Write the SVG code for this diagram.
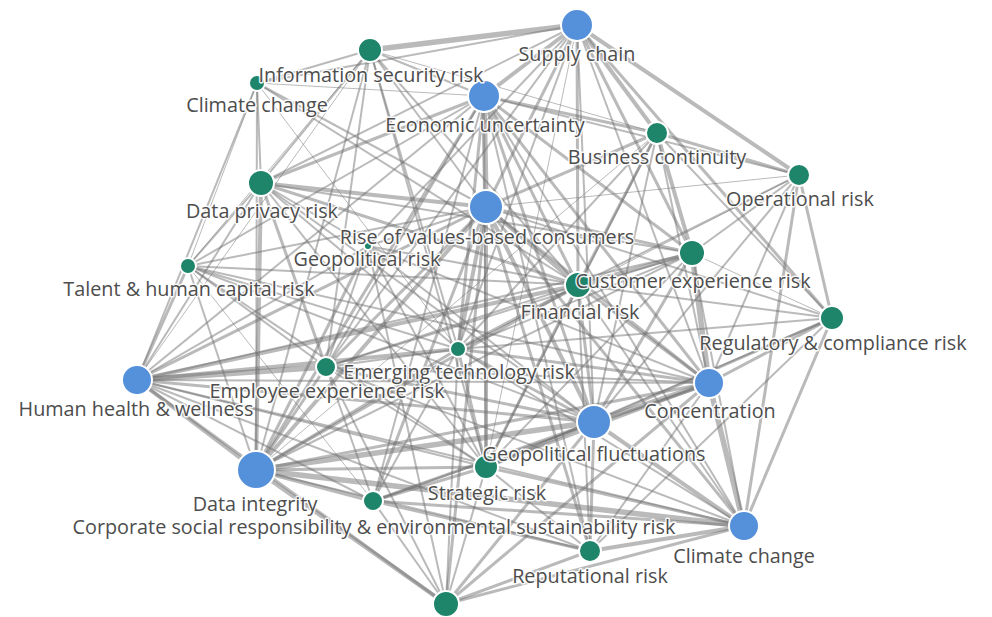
<svg xmlns="http://www.w3.org/2000/svg" width="992" height="617" viewBox="0 0 992 617">
<style>
.edges line{stroke:#6e6e6e;stroke-opacity:0.48;fill:none}
.e1{stroke-width:1}.e2{stroke-width:2}.e3{stroke-width:3}.e4{stroke-width:4}.e5{stroke-width:5.5}
.nb{fill:#5590db;stroke:#fff;stroke-width:2}
.ng{fill:#1e846a;stroke:#fff;stroke-width:2}
.lbl{font-family:"Open Sans","Noto Sans",sans-serif;font-size:19.8px;fill:#4d4d4d;text-anchor:middle;stroke:#fff;stroke-width:3;stroke-opacity:0.9;paint-order:stroke;stroke-linejoin:round}
</style>
<rect width="992" height="617" fill="#fff"/>
<g id="connectors" class="edges">
<line class="e5" x1="577" y1="25" x2="370" y2="50"/>
<line class="e4" x1="577" y1="25" x2="484" y2="96"/>
<line class="e4" x1="577" y1="25" x2="657" y2="133"/>
<line class="e4" x1="577" y1="25" x2="799" y2="175"/>
<line class="e3" x1="577" y1="25" x2="692" y2="253"/>
<line class="e3" x1="577" y1="25" x2="578" y2="285"/>
<line class="e3" x1="577" y1="25" x2="486" y2="207"/>
<line class="e2" x1="577" y1="25" x2="261" y2="183"/>
<line class="e2" x1="577" y1="25" x2="368" y2="246"/>
<line class="e2" x1="577" y1="25" x2="458" y2="349"/>
<line class="e3" x1="577" y1="25" x2="832" y2="318"/>
<line class="e2" x1="577" y1="25" x2="709" y2="383"/>
<line class="e2" x1="577" y1="25" x2="594" y2="422"/>
<line class="e1" x1="577" y1="25" x2="486" y2="467"/>
<line class="e2" x1="577" y1="25" x2="257" y2="83"/>
<line class="e2" x1="577" y1="25" x2="326" y2="367"/>
<line class="e1" x1="484" y1="96" x2="257" y2="83"/>
<line class="e2" x1="484" y1="96" x2="370" y2="50"/>
<line class="e3" x1="484" y1="96" x2="657" y2="133"/>
<line class="e2" x1="484" y1="96" x2="799" y2="175"/>
<line class="e5" x1="484" y1="96" x2="486" y2="207"/>
<line class="e3" x1="484" y1="96" x2="261" y2="183"/>
<line class="e2" x1="484" y1="96" x2="188" y2="266"/>
<line class="e2" x1="484" y1="96" x2="137" y2="380"/>
<line class="e3" x1="484" y1="96" x2="256" y2="470"/>
<line class="e2" x1="484" y1="96" x2="326" y2="367"/>
<line class="e3" x1="484" y1="96" x2="458" y2="349"/>
<line class="e3" x1="484" y1="96" x2="594" y2="422"/>
<line class="e3" x1="484" y1="96" x2="709" y2="383"/>
<line class="e3" x1="484" y1="96" x2="692" y2="253"/>
<line class="e3" x1="484" y1="96" x2="578" y2="285"/>
<line class="e2" x1="484" y1="96" x2="486" y2="467"/>
<line class="e2" x1="484" y1="96" x2="373" y2="501"/>
<line class="e2" x1="484" y1="96" x2="590" y2="551"/>
<line class="e2" x1="484" y1="96" x2="744" y2="526"/>
<line class="e2" x1="486" y1="207" x2="370" y2="50"/>
<line class="e4" x1="486" y1="207" x2="261" y2="183"/>
<line class="e2" x1="486" y1="207" x2="188" y2="266"/>
<line class="e3" x1="486" y1="207" x2="137" y2="380"/>
<line class="e4" x1="486" y1="207" x2="256" y2="470"/>
<line class="e3" x1="486" y1="207" x2="326" y2="367"/>
<line class="e4" x1="486" y1="207" x2="458" y2="349"/>
<line class="e4" x1="486" y1="207" x2="594" y2="422"/>
<line class="e4" x1="486" y1="207" x2="486" y2="467"/>
<line class="e3" x1="486" y1="207" x2="373" y2="501"/>
<line class="e3" x1="486" y1="207" x2="446" y2="604"/>
<line class="e3" x1="486" y1="207" x2="590" y2="551"/>
<line class="e3" x1="486" y1="207" x2="744" y2="526"/>
<line class="e3" x1="486" y1="207" x2="709" y2="383"/>
<line class="e3" x1="486" y1="207" x2="692" y2="253"/>
<line class="e4" x1="486" y1="207" x2="578" y2="285"/>
<line class="e3" x1="486" y1="207" x2="657" y2="133"/>
<line class="e1" x1="486" y1="207" x2="799" y2="175"/>
<line class="e2" x1="486" y1="207" x2="832" y2="318"/>
<line class="e2" x1="486" y1="207" x2="368" y2="246"/>
<line class="e2" x1="486" y1="207" x2="257" y2="83"/>
<line class="e2" x1="137" y1="380" x2="257" y2="83"/>
<line class="e2" x1="137" y1="380" x2="261" y2="183"/>
<line class="e3" x1="137" y1="380" x2="188" y2="266"/>
<line class="e5" x1="137" y1="380" x2="326" y2="367"/>
<line class="e4" x1="137" y1="380" x2="458" y2="349"/>
<line class="e4" x1="137" y1="380" x2="578" y2="285"/>
<line class="e2" x1="137" y1="380" x2="692" y2="253"/>
<line class="e4" x1="137" y1="380" x2="256" y2="470"/>
<line class="e2" x1="137" y1="380" x2="373" y2="501"/>
<line class="e2" x1="137" y1="380" x2="486" y2="467"/>
<line class="e3" x1="137" y1="380" x2="594" y2="422"/>
<line class="e2" x1="137" y1="380" x2="709" y2="383"/>
<line class="e2" x1="137" y1="380" x2="590" y2="551"/>
<line class="e3" x1="137" y1="380" x2="446" y2="604"/>
<line class="e1" x1="137" y1="380" x2="370" y2="50"/>
<line class="e2" x1="137" y1="380" x2="368" y2="246"/>
<line class="e2" x1="137" y1="380" x2="744" y2="526"/>
<line class="e2" x1="256" y1="470" x2="257" y2="83"/>
<line class="e4" x1="256" y1="470" x2="261" y2="183"/>
<line class="e2" x1="256" y1="470" x2="188" y2="266"/>
<line class="e3" x1="256" y1="470" x2="326" y2="367"/>
<line class="e3" x1="256" y1="470" x2="458" y2="349"/>
<line class="e3" x1="256" y1="470" x2="368" y2="246"/>
<line class="e2" x1="256" y1="470" x2="370" y2="50"/>
<line class="e5" x1="256" y1="470" x2="594" y2="422"/>
<line class="e3" x1="256" y1="470" x2="709" y2="383"/>
<line class="e4" x1="256" y1="470" x2="373" y2="501"/>
<line class="e3" x1="256" y1="470" x2="486" y2="467"/>
<line class="e4" x1="256" y1="470" x2="446" y2="604"/>
<line class="e2" x1="256" y1="470" x2="590" y2="551"/>
<line class="e5" x1="256" y1="470" x2="744" y2="526"/>
<line class="e3" x1="256" y1="470" x2="578" y2="285"/>
<line class="e2" x1="256" y1="470" x2="692" y2="253"/>
<line class="e1" x1="256" y1="470" x2="657" y2="133"/>
<line class="e5" x1="594" y1="422" x2="709" y2="383"/>
<line class="e4" x1="594" y1="422" x2="744" y2="526"/>
<line class="e3" x1="594" y1="422" x2="590" y2="551"/>
<line class="e4" x1="594" y1="422" x2="486" y2="467"/>
<line class="e3" x1="594" y1="422" x2="373" y2="501"/>
<line class="e3" x1="594" y1="422" x2="446" y2="604"/>
<line class="e3" x1="594" y1="422" x2="458" y2="349"/>
<line class="e3" x1="594" y1="422" x2="326" y2="367"/>
<line class="e3" x1="594" y1="422" x2="578" y2="285"/>
<line class="e3" x1="594" y1="422" x2="692" y2="253"/>
<line class="e3" x1="594" y1="422" x2="832" y2="318"/>
<line class="e2" x1="594" y1="422" x2="799" y2="175"/>
<line class="e2" x1="594" y1="422" x2="657" y2="133"/>
<line class="e2" x1="594" y1="422" x2="261" y2="183"/>
<line class="e2" x1="594" y1="422" x2="368" y2="246"/>
<line class="e2" x1="594" y1="422" x2="188" y2="266"/>
<line class="e5" x1="709" y1="383" x2="692" y2="253"/>
<line class="e3" x1="709" y1="383" x2="832" y2="318"/>
<line class="e2" x1="709" y1="383" x2="799" y2="175"/>
<line class="e2" x1="709" y1="383" x2="657" y2="133"/>
<line class="e3" x1="709" y1="383" x2="578" y2="285"/>
<line class="e5" x1="709" y1="383" x2="744" y2="526"/>
<line class="e2" x1="709" y1="383" x2="590" y2="551"/>
<line class="e3" x1="709" y1="383" x2="486" y2="467"/>
<line class="e2" x1="709" y1="383" x2="373" y2="501"/>
<line class="e3" x1="709" y1="383" x2="446" y2="604"/>
<line class="e3" x1="709" y1="383" x2="458" y2="349"/>
<line class="e2" x1="709" y1="383" x2="326" y2="367"/>
<line class="e2" x1="709" y1="383" x2="188" y2="266"/>
<line class="e2" x1="709" y1="383" x2="368" y2="246"/>
<line class="e3" x1="744" y1="526" x2="832" y2="318"/>
<line class="e3" x1="744" y1="526" x2="799" y2="175"/>
<line class="e2" x1="744" y1="526" x2="692" y2="253"/>
<line class="e2" x1="744" y1="526" x2="578" y2="285"/>
<line class="e4" x1="744" y1="526" x2="590" y2="551"/>
<line class="e3" x1="744" y1="526" x2="486" y2="467"/>
<line class="e3" x1="744" y1="526" x2="373" y2="501"/>
<line class="e3" x1="744" y1="526" x2="446" y2="604"/>
<line class="e2" x1="744" y1="526" x2="458" y2="349"/>
<line class="e2" x1="744" y1="526" x2="326" y2="367"/>
<line class="e2" x1="370" y1="50" x2="257" y2="83"/>
<line class="e2" x1="370" y1="50" x2="261" y2="183"/>
<line class="e1" x1="370" y1="50" x2="188" y2="266"/>
<line class="e2" x1="370" y1="50" x2="326" y2="367"/>
<line class="e2" x1="370" y1="50" x2="458" y2="349"/>
<line class="e1" x1="370" y1="50" x2="657" y2="133"/>
<line class="e2" x1="370" y1="50" x2="578" y2="285"/>
<line class="e2" x1="370" y1="50" x2="486" y2="467"/>
<line class="e2" x1="257" y1="83" x2="261" y2="183"/>
<line class="e1" x1="257" y1="83" x2="188" y2="266"/>
<line class="e2" x1="257" y1="83" x2="578" y2="285"/>
<line class="e1" x1="257" y1="83" x2="458" y2="349"/>
<line class="e2" x1="261" y1="183" x2="188" y2="266"/>
<line class="e3" x1="261" y1="183" x2="326" y2="367"/>
<line class="e2" x1="261" y1="183" x2="458" y2="349"/>
<line class="e2" x1="261" y1="183" x2="692" y2="253"/>
<line class="e3" x1="261" y1="183" x2="578" y2="285"/>
<line class="e2" x1="261" y1="183" x2="486" y2="467"/>
<line class="e2" x1="261" y1="183" x2="368" y2="246"/>
<line class="e2" x1="188" y1="266" x2="326" y2="367"/>
<line class="e2" x1="188" y1="266" x2="458" y2="349"/>
<line class="e2" x1="188" y1="266" x2="486" y2="467"/>
<line class="e2" x1="188" y1="266" x2="578" y2="285"/>
<line class="e1" x1="188" y1="266" x2="373" y2="501"/>
<line class="e3" x1="657" y1="133" x2="799" y2="175"/>
<line class="e4" x1="657" y1="133" x2="692" y2="253"/>
<line class="e3" x1="657" y1="133" x2="578" y2="285"/>
<line class="e2" x1="657" y1="133" x2="458" y2="349"/>
<line class="e2" x1="657" y1="133" x2="832" y2="318"/>
<line class="e2" x1="657" y1="133" x2="486" y2="467"/>
<line class="e2" x1="799" y1="175" x2="692" y2="253"/>
<line class="e3" x1="799" y1="175" x2="832" y2="318"/>
<line class="e2" x1="799" y1="175" x2="578" y2="285"/>
<line class="e1" x1="799" y1="175" x2="458" y2="349"/>
<line class="e4" x1="692" y1="253" x2="578" y2="285"/>
<line class="e1" x1="692" y1="253" x2="832" y2="318"/>
<line class="e2" x1="692" y1="253" x2="458" y2="349"/>
<line class="e2" x1="692" y1="253" x2="326" y2="367"/>
<line class="e2" x1="692" y1="253" x2="486" y2="467"/>
<line class="e3" x1="578" y1="285" x2="458" y2="349"/>
<line class="e2" x1="578" y1="285" x2="326" y2="367"/>
<line class="e3" x1="578" y1="285" x2="486" y2="467"/>
<line class="e2" x1="578" y1="285" x2="590" y2="551"/>
<line class="e2" x1="578" y1="285" x2="832" y2="318"/>
<line class="e2" x1="832" y1="318" x2="590" y2="551"/>
<line class="e2" x1="832" y1="318" x2="486" y2="467"/>
<line class="e2" x1="832" y1="318" x2="458" y2="349"/>
<line class="e2" x1="458" y1="349" x2="326" y2="367"/>
<line class="e3" x1="458" y1="349" x2="486" y2="467"/>
<line class="e2" x1="458" y1="349" x2="373" y2="501"/>
<line class="e2" x1="458" y1="349" x2="446" y2="604"/>
<line class="e2" x1="326" y1="367" x2="486" y2="467"/>
<line class="e2" x1="326" y1="367" x2="373" y2="501"/>
<line class="e2" x1="326" y1="367" x2="446" y2="604"/>
<line class="e3" x1="486" y1="467" x2="373" y2="501"/>
<line class="e2" x1="486" y1="467" x2="590" y2="551"/>
<line class="e2" x1="486" y1="467" x2="446" y2="604"/>
<line class="e3" x1="373" y1="501" x2="590" y2="551"/>
<line class="e2" x1="373" y1="501" x2="446" y2="604"/>
<line class="e3" x1="590" y1="551" x2="446" y2="604"/>
<line class="e2" x1="368" y1="246" x2="578" y2="285"/>
<line class="e2" x1="368" y1="246" x2="486" y2="467"/>
<line class="e2" x1="368" y1="246" x2="326" y2="367"/>
<line class="e2" x1="368" y1="246" x2="446" y2="604"/>
</g>
<g id="n-supply-chain"><circle class="nb" cx="577" cy="25" r="16"/></g>
<g id="n-economic-uncertainty"><circle class="nb" cx="484" cy="96" r="16"/></g>
<g id="n-rise-values"><circle class="nb" cx="486" cy="207" r="17"/></g>
<g id="n-human-health"><circle class="nb" cx="137" cy="380" r="15"/></g>
<g id="n-data-integrity"><circle class="nb" cx="256" cy="470" r="19"/></g>
<g id="n-geopolitical-fluct"><circle class="nb" cx="594" cy="422" r="17"/></g>
<g id="n-concentration"><circle class="nb" cx="709" cy="383" r="15"/></g>
<g id="n-climate-change-b"><circle class="nb" cx="744" cy="526" r="15"/></g>
<g id="n-info-security"><circle class="ng" cx="370" cy="50" r="12"/></g>
<g id="n-climate-change-g"><circle class="ng" cx="257" cy="83" r="8"/></g>
<g id="n-data-privacy"><circle class="ng" cx="261" cy="183" r="13"/></g>
<g id="n-talent"><circle class="ng" cx="188" cy="266" r="8"/></g>
<g id="n-geopolitical-risk"><circle class="ng" cx="368" cy="246" r="4"/></g>
<g id="n-business-continuity"><circle class="ng" cx="657" cy="133" r="11"/></g>
<g id="n-operational"><circle class="ng" cx="799" cy="175" r="11"/></g>
<g id="n-customer-exp"><circle class="ng" cx="692" cy="253" r="13"/></g>
<g id="n-financial"><circle class="ng" cx="578" cy="285" r="13"/></g>
<g id="n-regulatory"><circle class="ng" cx="832" cy="318" r="12"/></g>
<g id="n-emerging-tech"><circle class="ng" cx="458" cy="349" r="8"/></g>
<g id="n-employee-exp"><circle class="ng" cx="326" cy="367" r="10"/></g>
<g id="n-strategic"><circle class="ng" cx="486" cy="467" r="12"/></g>
<g id="n-csr"><circle class="ng" cx="373" cy="501" r="10"/></g>
<g id="n-reputational"><circle class="ng" cx="590" cy="551" r="11"/></g>
<g id="n-bottom"><circle class="ng" cx="446" cy="604" r="13"/></g>
<g id="labels">
<text class="lbl" x="577" y="61">Supply chain</text>
<text class="lbl" x="371" y="82">Information security risk</text>
<text class="lbl" x="257" y="112">Climate change</text>
<text class="lbl" x="485" y="132">Economic uncertainty</text>
<text class="lbl" x="657" y="164">Business continuity</text>
<text class="lbl" x="800" y="206">Operational risk</text>
<text class="lbl" x="262" y="218">Data privacy risk</text>
<text class="lbl" x="487" y="244">Rise of values-based consumers</text>
<text class="lbl" x="367" y="266">Geopolitical risk</text>
<text class="lbl" x="189" y="296">Talent &amp; human capital risk</text>
<text class="lbl" x="693" y="288">Customer experience risk</text>
<text class="lbl" x="580" y="319">Financial risk</text>
<text class="lbl" x="833" y="350">Regulatory &amp; compliance risk</text>
<text class="lbl" x="459" y="379">Emerging technology risk</text>
<text class="lbl" x="327" y="398">Employee experience risk</text>
<text class="lbl" x="136" y="416">Human health &amp; wellness</text>
<text class="lbl" x="710" y="418">Concentration</text>
<text class="lbl" x="594" y="461">Geopolitical fluctuations</text>
<text class="lbl" x="487" y="500">Strategic risk</text>
<text class="lbl" x="255" y="511">Data integrity</text>
<text class="lbl" x="374" y="534">Corporate social responsibility &amp; environmental sustainability risk</text>
<text class="lbl" x="590" y="583">Reputational risk</text>
<text class="lbl" x="744" y="563">Climate change</text>
</g>
</svg>
